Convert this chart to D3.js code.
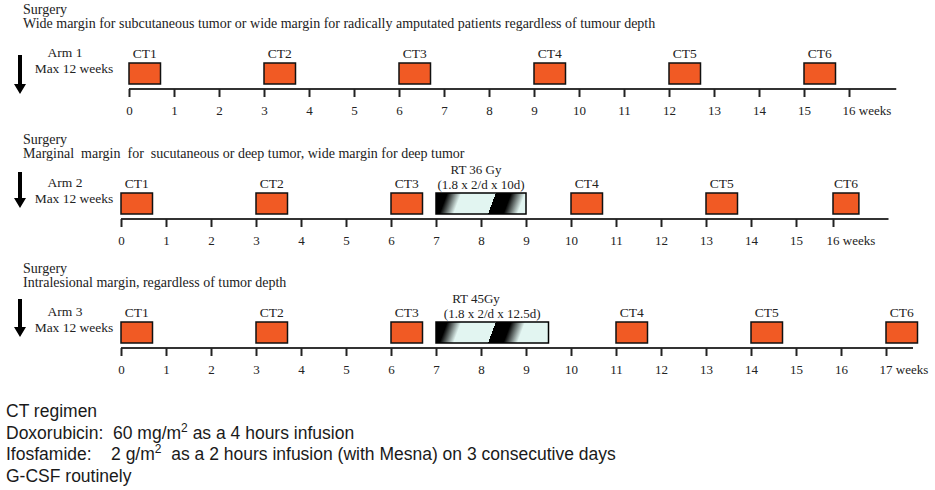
<!DOCTYPE html>
<html>
<head>
<meta charset="utf-8">
<script src="https://cdn.jsdelivr.net/npm/d3@7"></script>
<style>
  body { margin: 0; background: #fff; }
  svg { display: block; }
</style>
</head>
<body>
<div id="chart"></div>
<script>
// Protocol data
const armNames = ['Arm 1', 'Arm 2', 'Arm 3'];
const armNote = 'Max 12 weeks';
const surgeryTitle = 'Surgery';
const surgeryMargins = [
  'Wide margin for subcutaneous tumor or wide margin for radically amputated patients regardless of tumour depth',
  'Marginal  margin  for  sucutaneous or deep tumor, wide margin for deep tumor',
  'Intralesional margin, regardless of tumor depth'
];
const ctLabels = ['CT1', 'CT2', 'CT3', 'CT4', 'CT5', 'CT6'];
const ctWeeks = [
  [0, 3, 6, 9, 12, 15],
  [0, 3, 6, 10, 13, 16],
  [0, 3, 6, 11, 14, 17]
];
const ctLength = 0.7; // weeks
const rtWeeks = [null, [7, 9], [7, 9.5]];
const rtLabels = [null, ['RT 36 Gy', '(1.8 x 2/d x 10d)'], ['RT 45Gy', '(1.8 x 2/d x 12.5d)']];
const lastWeek = [16, 16, 17];

const regimenLines = [
  [['CT regimen']],
  [['Doxorubicin:  60 mg/m'], ['2', 'sup'], [' as a 4 hours infusion']],
  [['Ifosfamide:    2 g/m'], ['2', 'sup'], ['  as a 2 hours infusion (with Mesna) on 3 consecutive days']],
  [['G-CSF routinely']]
];

// Layout
const W = 935;
const H = 490;
const SERIF = "'Liberation Serif', 'Times New Roman', 'DejaVu Serif', serif";
const SANS = "'Liberation Sans', Arial, Helvetica, sans-serif";
const boxTop = -26;
const boxH = 21;
const arms = [
  { axisY: 89, domain: [0, 16], range: [129, 849], lineEnd: 17.05, arrow: [-34, 5] },
  { axisY: 219, domain: [0, 15, 16], range: [121, 796, 833], lineEnd: 17.5, arrow: [-47, -11] },
  { axisY: 348, domain: [0, 17], range: [121, 886], lineEnd: 17.6, arrow: [-49, -11] }
];

const svg = d3.select('#chart').append('svg')
  .attr('width', W)
  .attr('height', H);

const defs = svg.append('defs');

function serifText(sel, size) {
  return sel.append('text')
    .attr('font-family', SERIF)
    .attr('font-size', size)
    .attr('fill', '#222');
}

arms.forEach((L, i) => {
  const x = d3.scaleLinear().domain(L.domain).range(L.range);
  const g = svg.append('g').attr('transform', `translate(0,${L.axisY})`);

  // Surgery header
  serifText(g, 14)
    .attr('x', 23).attr('y', -75)
    .text(surgeryTitle);
  serifText(g, 14)
    .attr('x', 23).attr('y', -61)
    .style('white-space', 'pre')
    .text(surgeryMargins[i]);

  // Arm label
  serifText(g, 13.5)
    .attr('x', 65).attr('y', boxTop - 6)
    .attr('text-anchor', 'middle')
    .text(armNames[i]);
  serifText(g, 13.5)
    .attr('x', 74).attr('y', boxTop + 10)
    .attr('text-anchor', 'middle')
    .text(armNote);

  // Down arrow
  const ax = 20;
  const [a0, a1] = L.arrow;
  g.append('path')
    .attr('d', `M${ax - 2},${a0}H${ax + 2}V${a1 - 10}H${ax + 6}L${ax},${a1}L${ax - 6},${a1 - 10}H${ax - 2}Z`)
    .attr('fill', '#000');

  // Axis line
  g.append('line')
    .attr('x1', x(0)).attr('x2', x(L.lineEnd))
    .attr('y1', 0).attr('y2', 0)
    .attr('stroke', '#333')
    .attr('stroke-width', 2);

  const ticks = d3.range(0, lastWeek[i] + 1);
  const axis = d3.axisBottom(x)
    .tickValues(ticks)
    .tickSize(8)
    .tickFormat(d => (d === lastWeek[i] ? `${d} weeks` : d));

  const axG = g.append('g').call(axis)
    .attr('font-family', SERIF)
    .attr('font-size', 13);
  axG.select('.domain').remove();
  axG.selectAll('.tick line').attr('stroke', '#222').attr('stroke-width', 2);
  axG.selectAll('.tick text')
    .attr('fill', '#222')
    .attr('y', 26)
    .attr('dy', null)
    .attr('text-anchor', d => (d === lastWeek[i] ? 'start' : 'middle'))
    .attr('dx', d => (d === lastWeek[i] ? -7 : 0));

  // Radiotherapy block (striped black / pale cyan fill)
  if (rtWeeks[i]) {
    const [r0, r1] = rtWeeks[i];
    const gid = `rt-grad-${i}`;
    const grad = defs.append('linearGradient')
      .attr('id', gid)
      .attr('gradientUnits', 'userSpaceOnUse')
      .attr('spreadMethod', 'repeat')
      .attr('x1', x(r0) - 4).attr('y1', boxTop)
      .attr('x2', x(r0) + 52).attr('y2', boxTop + 21);
    [[0, '#000'], [0.24, '#000'], [0.46, '#e2f5f1'], [1, '#e2f5f1']].forEach(([o, c]) => {
      grad.append('stop').attr('offset', o).attr('stop-color', c);
    });
    g.append('rect')
      .attr('x', x(r0)).attr('y', boxTop)
      .attr('width', x(r1) - x(r0)).attr('height', boxH)
      .attr('fill', `url(#${gid})`)
      .attr('stroke', '#000')
      .attr('stroke-width', 1.5);
    serifText(g, 13)
      .attr('x', x(r0) + 40).attr('y', boxTop - 19)
      .attr('text-anchor', 'middle')
      .text(rtLabels[i][0]);
    serifText(g, 13)
      .attr('x', (x(r0) + x(r1)) / 2).attr('y', boxTop - 4)
      .attr('text-anchor', 'middle')
      .text(rtLabels[i][1]);
  }

  // Chemotherapy cycles
  const ct = g.selectAll('g.ct')
    .data(ctWeeks[i])
    .enter().append('g')
    .attr('class', 'ct');
  ct.append('rect')
    .attr('x', d => x(d))
    .attr('y', boxTop)
    .attr('width', d => x(d + ctLength) - x(d))
    .attr('height', boxH)
    .attr('fill', '#f15a24')
    .attr('stroke', '#111')
    .attr('stroke-width', 1.5);
  serifText(ct, 13.5)
    .attr('x', d => (x(d) + x(d + ctLength)) / 2)
    .attr('y', boxTop - 5)
    .attr('text-anchor', 'middle')
    .text((d, k) => ctLabels[k]);
});

// CT regimen notes
const notes = svg.append('g')
  .attr('font-family', SANS)
  .attr('font-size', 17.5)
  .attr('fill', '#1a1a1a');
regimenLines.forEach((segs, j) => {
  const t = notes.append('text')
    .attr('x', 6)
    .attr('y', 417 + j * 21.5)
    .style('white-space', 'pre');
  segs.forEach(([s, kind], k) => {
    const sp = t.append('tspan').text(s);
    if (kind === 'sup') {
      sp.attr('dy', -7).attr('font-size', 12);
    } else if (k > 0) {
      sp.attr('dy', 7);
    }
  });
});
</script>
</body>
</html>
